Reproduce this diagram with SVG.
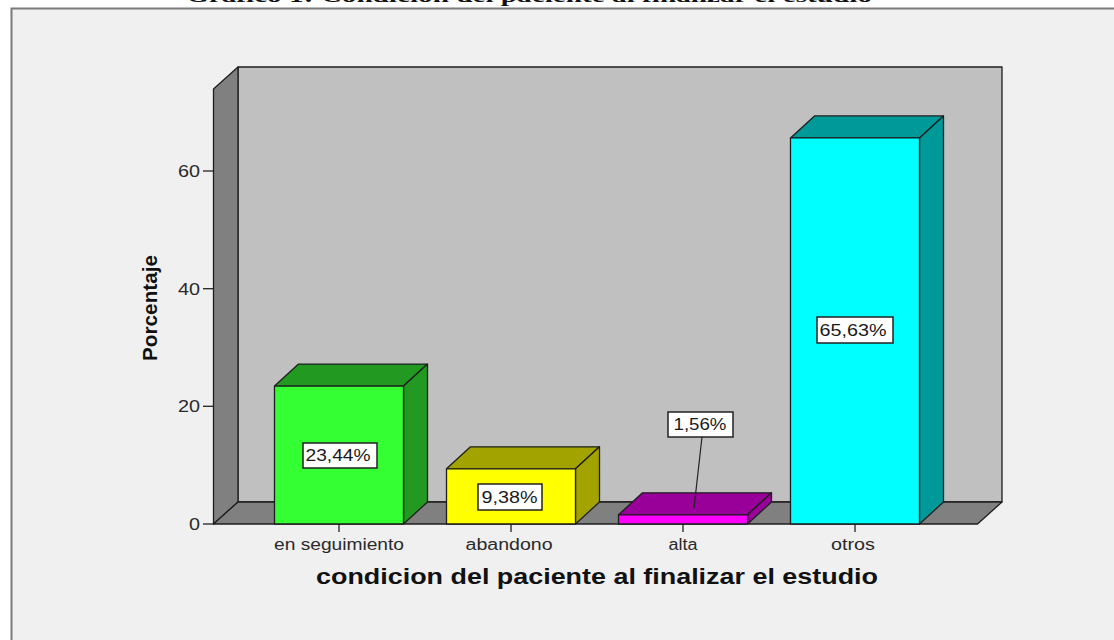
<svg xmlns="http://www.w3.org/2000/svg" width="1114" height="640" viewBox="0 0 1114 640">
  <style>
    .edge { stroke: #1e1e1e; stroke-width: 1.3; stroke-linejoin: round; }
    .tick { stroke: #222; stroke-width: 1.3; }
    .ax { font-family: "Liberation Sans", Arial, sans-serif; font-size: 16px; fill: #2a2a2a; }
    .val { font-family: "Liberation Sans", Arial, sans-serif; font-size: 16px; fill: #1a1a1a; text-anchor: middle; }
    .box { fill: #ffffff; stroke: #222; stroke-width: 1.5; }
    .lead { stroke: #222; stroke-width: 1.2; fill: none; }
  </style>
  <rect x="0" y="0" width="1114" height="640" fill="#ffffff"/>
  <text x="186" y="1.5" font-family="Liberation Serif, Times New Roman, serif" font-size="18" font-weight="bold" fill="#111" textLength="686" lengthAdjust="spacingAndGlyphs">Gráfico 1: Condición del paciente al finalizar el estudio</text>
  <rect x="11.5" y="8.5" width="1120" height="650" fill="#f0f0f0" stroke="#7a7a7a" stroke-width="2"/>

  <g id="chart-frame">
    <rect class="edge" x="238" y="67" width="764" height="435" fill="#c0c0c0"/>
    <polygon class="edge" points="213.5,89 238,67 238,502 213.5,524" fill="#808080"/>
    <polygon class="edge" points="213.5,524 238,502 1002,502 977.5,524" fill="#808080"/>
  </g>

  <g id="y-axis">
    <line class="tick" x1="203" y1="524" x2="213.5" y2="524"/>
    <line class="tick" x1="203" y1="406.3" x2="213.5" y2="406.3"/>
    <line class="tick" x1="203" y1="288.7" x2="213.5" y2="288.7"/>
    <line class="tick" x1="203" y1="171" x2="213.5" y2="171"/>
    <text class="ax" x="200" y="530" text-anchor="end" textLength="11" lengthAdjust="spacingAndGlyphs">0</text>
    <text class="ax" x="200" y="412.3" text-anchor="end" textLength="22" lengthAdjust="spacingAndGlyphs">20</text>
    <text class="ax" x="200" y="294.7" text-anchor="end" textLength="22" lengthAdjust="spacingAndGlyphs">40</text>
    <text class="ax" x="200" y="177" text-anchor="end" textLength="22" lengthAdjust="spacingAndGlyphs">60</text>
    <text transform="translate(157,308) rotate(-90)" font-family="Liberation Sans, Arial, sans-serif" font-size="20.5" font-weight="bold" fill="#111" text-anchor="middle" textLength="106" lengthAdjust="spacingAndGlyphs">Porcentaje</text>
  </g>

  <g id="bar-en-seguimiento">
    <polygon class="edge" points="274.5,386.1 298.5,364.1 427.5,364.1 403.5,386.1" fill="#229a22"/>
    <polygon class="edge" points="403.5,386.1 427.5,364.1 427.5,502 403.5,524" fill="#229a22"/>
    <rect class="edge" x="274.5" y="386.1" width="129" height="137.9" fill="#33ff33"/>
    <line class="tick" x1="339" y1="524" x2="339" y2="532"/>
    <text class="ax" x="339" y="550" text-anchor="middle" textLength="130" lengthAdjust="spacingAndGlyphs">en seguimiento</text>
  </g>

  <g id="bar-abandono">
    <polygon class="edge" points="446.5,468.8 470.5,446.8 599.5,446.8 575.5,468.8" fill="#a3a300"/>
    <polygon class="edge" points="575.5,468.8 599.5,446.8 599.5,502 575.5,524" fill="#a3a300"/>
    <rect class="edge" x="446.5" y="468.8" width="129" height="55.2" fill="#ffff00"/>
    <line class="tick" x1="511" y1="524" x2="511" y2="532"/>
    <text class="ax" x="509" y="550" text-anchor="middle" textLength="87" lengthAdjust="spacingAndGlyphs">abandono</text>
  </g>

  <g id="bar-alta">
    <polygon class="edge" points="618.5,514.8 642.5,492.8 771.5,492.8 747.5,514.8" fill="#990099"/>
    <polygon class="edge" points="747.5,514.8 771.5,492.8 771.5,502 747.5,524" fill="#990099"/>
    <rect class="edge" x="618.5" y="514.8" width="129" height="9.2" fill="#ff00ff"/>
    <line class="tick" x1="683" y1="524" x2="683" y2="532"/>
    <text class="ax" x="683" y="550" text-anchor="middle" textLength="29" lengthAdjust="spacingAndGlyphs">alta</text>
  </g>

  <g id="bar-otros">
    <polygon class="edge" points="790.5,137.9 814.5,115.9 943.5,115.9 919.5,137.9" fill="#009999"/>
    <polygon class="edge" points="919.5,137.9 943.5,115.9 943.5,502 919.5,524" fill="#009999"/>
    <rect class="edge" x="790.5" y="137.9" width="129" height="386.1" fill="#00ffff"/>
    <line class="tick" x1="855" y1="524" x2="855" y2="532"/>
    <text class="ax" x="853" y="550" text-anchor="middle" textLength="44" lengthAdjust="spacingAndGlyphs">otros</text>
  </g>

  <g id="connectors">
    <line class="lead" x1="702" y1="437" x2="694" y2="508"/>
  </g>

  <g id="label-23-44">
    <rect class="box" x="303" y="443" width="74" height="25"/>
    <text class="val" x="338" y="461" textLength="65" lengthAdjust="spacingAndGlyphs">23,44%</text>
  </g>
  <g id="label-9-38">
    <rect class="box" x="478" y="484" width="64" height="26"/>
    <text class="val" x="509.5" y="503" textLength="56" lengthAdjust="spacingAndGlyphs">9,38%</text>
  </g>
  <g id="label-1-56">
    <rect class="box" x="668" y="412" width="65" height="25"/>
    <text class="val" x="700" y="430" textLength="53" lengthAdjust="spacingAndGlyphs">1,56%</text>
  </g>
  <g id="label-65-63">
    <rect class="box" x="817" y="317" width="76" height="26"/>
    <text class="val" x="853" y="336" textLength="67" lengthAdjust="spacingAndGlyphs">65,63%</text>
  </g>

  <g id="x-title">
    <text x="597" y="584" font-family="Liberation Sans, Arial, sans-serif" font-size="22" font-weight="bold" fill="#111" text-anchor="middle" textLength="562" lengthAdjust="spacingAndGlyphs">condicion del paciente al finalizar el estudio</text>
  </g>
</svg>
